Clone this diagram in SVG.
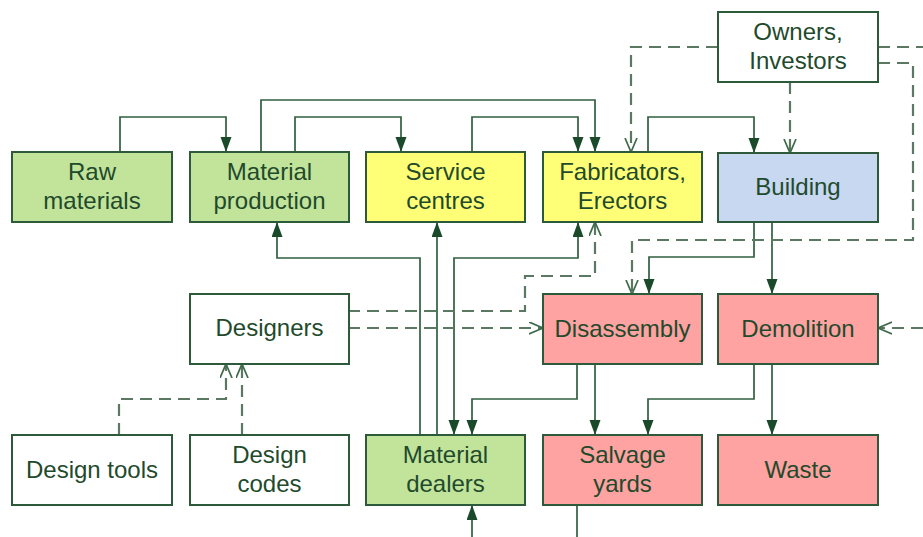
<svg xmlns="http://www.w3.org/2000/svg" width="923" height="537" viewBox="0 0 923 537">
  <style>
    .box { stroke: #2d5a3a; stroke-width: 2; }
    .green { fill: #c2e39a; }
    .yellow { fill: #ffff77; }
    .blue { fill: #c8d8f0; }
    .pink { fill: #ffa2a2; }
    .white { fill: #ffffff; }
    text { font-family: "Liberation Sans", Arial, sans-serif; font-size: 24px; fill: #1f4a2c; text-anchor: middle; }
    .s { fill: none; stroke: #2f5f3f; stroke-width: 1.7; }
    .d { fill: none; stroke: #5a7862; stroke-width: 2.2; stroke-dasharray: 12 7; }
  </style>
  <defs>
    <marker id="arrow" markerUnits="userSpaceOnUse" markerWidth="16" markerHeight="12" refX="15" refY="5.5" orient="auto-start-reverse">
      <path d="M0,0 L15,5.5 L0,11 z" fill="#1a4a2a"/>
    </marker>
    <marker id="open" markerUnits="userSpaceOnUse" markerWidth="17" markerHeight="15" refX="14" refY="6.5" orient="auto">
      <path d="M0,0.5 L14,6.5 L0,12.5" fill="none" stroke="#3f6a4a" stroke-width="1.7"/>
    </marker>
  </defs>

  <!-- connectors -->
  <g id="connectors">
    <!-- material flows -->
    <path class="s" d="M120,152 V117 H226 V152" marker-end="url(#arrow)"/>
    <path class="s" d="M261,152 V100 H595 V152" marker-end="url(#arrow)"/>
    <path class="s" d="M295,152 V117 H401 V152" marker-end="url(#arrow)"/>
    <path class="s" d="M472,152 V117 H578 V152" marker-end="url(#arrow)"/>
    <path class="s" d="M648,152 V117 H754 V153" marker-end="url(#arrow)"/>
    <path class="s" d="M420,435 V258 H277 V222" marker-end="url(#arrow)"/>
    <path class="s" d="M437,435 V222" marker-end="url(#arrow)"/>
    <path class="s" d="M454,435 V258 H578 V222" marker-start="url(#arrow)" marker-end="url(#arrow)"/>
    <path class="s" d="M754,222 V257 H649 V294" marker-end="url(#arrow)"/>
    <path class="s" d="M772,222 V294" marker-end="url(#arrow)"/>
    <path class="s" d="M577,364 V399 H472 V435" marker-end="url(#arrow)"/>
    <path class="s" d="M595,364 V435" marker-end="url(#arrow)"/>
    <path class="s" d="M754,364 V399 H648 V435" marker-end="url(#arrow)"/>
    <path class="s" d="M772,364 V435" marker-end="url(#arrow)"/>
    <path class="s" d="M577,505 V537"/>
    <path class="s" d="M472,537 V505" marker-end="url(#arrow)"/>
    <!-- information flows -->
    <path class="d" d="M718,47 H631 V152" marker-end="url(#open)"/>
    <path class="d" d="M790,82 V153" marker-end="url(#open)"/>
    <path class="d" d="M878,47 H923"/>
    <path class="d" d="M878,63 H913 V240 H632 V294" marker-end="url(#open)"/>
    <path class="d" d="M923,328 H878" marker-end="url(#open)"/>
    <path class="d" d="M348,311 H525 V276 H595 V222" marker-end="url(#open)"/>
    <path class="d" d="M348,328 H543" marker-end="url(#open)"/>
    <path class="d" d="M119,435 V399 H226 V364" marker-end="url(#open)"/>
    <path class="d" d="M242,435 V364" marker-end="url(#open)"/>
  </g>

  <!-- nodes -->
  <g id="owners">
    <rect class="box white" x="718" y="12" width="160" height="70"/>
    <text x="798" y="40">Owners,</text>
    <text x="798" y="69">Investors</text>
  </g>
  <g id="raw-materials">
    <rect class="box green" x="12" y="152" width="160" height="70"/>
    <text x="92" y="180">Raw</text>
    <text x="92" y="209">materials</text>
  </g>
  <g id="material-production">
    <rect class="box green" x="190" y="152" width="159" height="70"/>
    <text x="269.5" y="180">Material</text>
    <text x="269.5" y="209">production</text>
  </g>
  <g id="service-centres">
    <rect class="box yellow" x="366" y="152" width="159" height="70"/>
    <text x="445.5" y="180">Service</text>
    <text x="445.5" y="209">centres</text>
  </g>
  <g id="fabricators">
    <rect class="box yellow" x="543" y="152" width="159" height="70"/>
    <text x="622.5" y="180">Fabricators,</text>
    <text x="622.5" y="209">Erectors</text>
  </g>
  <g id="building">
    <rect class="box blue" x="718" y="153" width="160" height="69"/>
    <text x="798" y="195">Building</text>
  </g>
  <g id="designers">
    <rect class="box white" x="190" y="294" width="159" height="70"/>
    <text x="269.5" y="336">Designers</text>
  </g>
  <g id="disassembly">
    <rect class="box pink" x="543" y="294" width="159" height="70"/>
    <text x="622.5" y="337">Disassembly</text>
  </g>
  <g id="demolition">
    <rect class="box pink" x="718" y="294" width="160" height="70"/>
    <text x="798" y="337">Demolition</text>
  </g>
  <g id="design-tools">
    <rect class="box white" x="12" y="435" width="160" height="70"/>
    <text x="92" y="478">Design tools</text>
  </g>
  <g id="design-codes">
    <rect class="box white" x="190" y="435" width="159" height="70"/>
    <text x="269.5" y="463">Design</text>
    <text x="269.5" y="492">codes</text>
  </g>
  <g id="material-dealers">
    <rect class="box green" x="366" y="435" width="159" height="70"/>
    <text x="445.5" y="463">Material</text>
    <text x="445.5" y="492">dealers</text>
  </g>
  <g id="salvage-yards">
    <rect class="box pink" x="543" y="435" width="159" height="70"/>
    <text x="622.5" y="463">Salvage</text>
    <text x="622.5" y="492">yards</text>
  </g>
  <g id="waste">
    <rect class="box pink" x="718" y="435" width="160" height="70"/>
    <text x="798" y="478">Waste</text>
  </g>
</svg>
